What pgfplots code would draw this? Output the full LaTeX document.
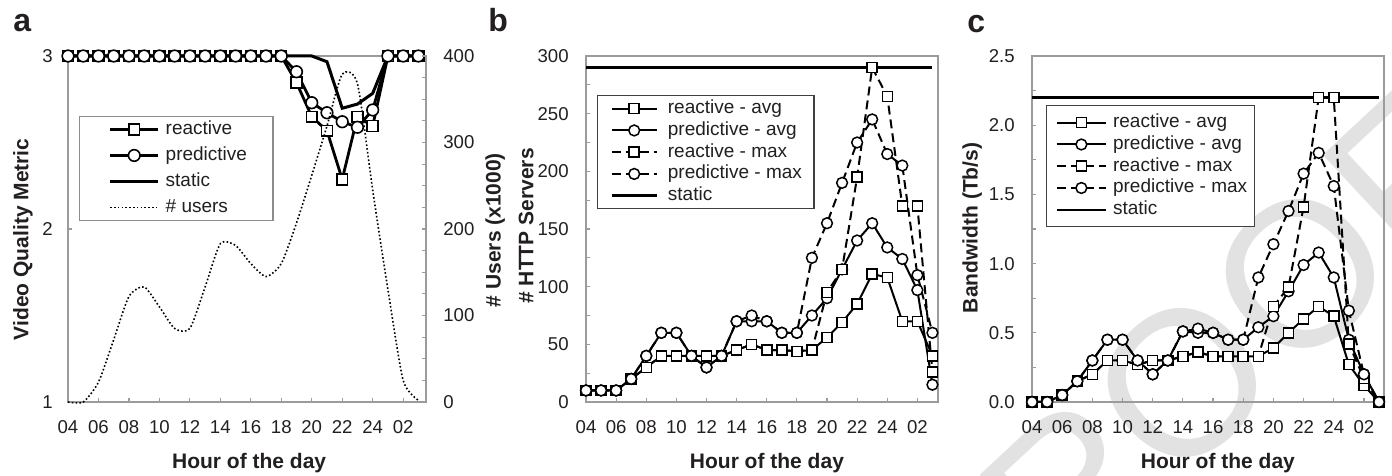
\documentclass[border=0pt]{standalone}
\usepackage{fontspec}
\setmainfont{Liberation Sans}
\usepackage{pgfplots}
\usepackage{pgfplotstable}
\pgfplotsset{compat=1.18}
\definecolor{axg}{RGB}{155,155,155}
\definecolor{txt}{RGB}{35,31,32}
\definecolor{wm}{RGB}{226,226,226}
\definecolor{legA}{RGB}{140,140,140}

\pgfplotstableread{
h react pred stat users
4 3 3 3 0
5 3 3 3 0
6 3 3 3 23
7 3 3 3 72
8 3 3 3 122
9 3 3 3 133
10 3 3 3 110
11 3 3 3 85
12 3 3 3 85
13 3 3 3 133
14 3 3 3 183
15 3 3 3 181
16 3 3 3 160
17 3 3 3 145
18 3 3 3 160
19 2.846 2.909 3 207
20 2.649 2.730 3 262
21 2.568 2.672 2.967 319
22 2.287 2.620 2.698 379
23 2.649 2.588 2.722 368
24 2.595 2.688 2.784 245
25 3 3 3 130
26 3 3 3 25
27 3 3 3 2
}\tabA

\pgfplotstableread{
h ra pa rm pm
4 10 10 10 10
5 10 10 10 10
6 10 10 10 10
7 20 20 20 20
8 30 40 30 40
9 40 60 40 60
10 40 60 40 60
11 40 40 40 40
12 40 30 40 30
13 40 40 40 40
14 45 70 45 70
15 50 70 50 75
16 45 70 45 70
17 45 60 45 60
18 44 60 44 60
19 45 75 45 125
20 56 90 95 155
21 69 115 115 190
22 85 140 195 225
23 111 155 290 245
24 108 134 265 215
25 70 124 170 205
26 70 97 170 110
27 40 15 26 60
}\tabB

\pgfplotstableread{
h ra pa rm pm
4 0 0 0 0
5 0 0 0 0
6 0.05 0.05 0.05 0.05
7 0.15 0.15 0.15 0.15
8 0.2 0.3 0.2 0.3
9 0.3 0.45 0.3 0.45
10 0.3 0.45 0.3 0.45
11 0.27 0.3 0.27 0.3
12 0.3 0.2 0.3 0.2
13 0.3 0.3 0.3 0.3
14 0.33 0.51 0.33 0.51
15 0.36 0.50 0.36 0.53
16 0.33 0.50 0.33 0.50
17 0.33 0.45 0.33 0.45
18 0.33 0.45 0.33 0.45
19 0.33 0.54 0.33 0.90
20 0.39 0.62 0.69 1.14
21 0.50 0.80 0.83 1.38
22 0.60 0.99 1.41 1.65
23 0.69 1.08 2.2 1.80
24 0.62 0.90 2.2 1.56
25 0.27 0.45 0.42 0.66
26 0.12 0.20 0.17 0.20
27 0 0 0 0
}\tabC

\pgfplotsset{
 base/.style={
  scale only axis, height=173pt, clip=false,
  xmin=4,
  axis line style={axg, line width=0.7pt},
  tick style={axg, line width=0.6pt},
  major tick length=2.2pt, minor tick length=2.2pt,
  tick align=inside,
  xtick={4,6,...,26},
  xticklabels={04,06,08,10,12,14,16,18,20,22,24,02},
  xtick pos=bottom,
  ytick pos=left,
  tick label style={font=\fontsize{9.3}{11}\selectfont, text=txt},
  xticklabel style={inner sep=0pt, yshift=-9pt},
  label style={font=\bfseries\fontsize{10.5}{12}\selectfont, text=txt},
  xlabel={Hour of the day},
  /pgf/number format/assume math mode=true,
  legend cell align=left,
 },
 sqA/.style={black, line width=1.4pt, mark=square*, mark size=2.7pt, mark options={fill=white, line width=0.8pt, solid}},
 ciA/.style={black, line width=1.4pt, mark=*, mark size=2.9pt, mark options={fill=white, line width=0.8pt, solid}},
 sqB/.style={black, line width=1pt, mark=square*, mark size=2.5pt, mark options={fill=white, line width=0.75pt, solid}},
 ciB/.style={black, line width=1pt, mark=*, mark size=2.7pt, mark options={fill=white, line width=0.75pt, solid}},
 dsh/.style={dash pattern=on 4.5pt off 2.5pt},
}

\begin{document}
\begin{tikzpicture}
\useasboundingbox (0,0) rectangle (696pt,238pt);
\node[rotate=43, text=wm, font=\fontsize{103}{103}\selectfont, inner sep=0pt] at (591.5pt,46.5pt) {PROOF};

% panel letters
\node[anchor=base west, inner sep=0pt, font=\bfseries\fontsize{16}{16}\selectfont, text=txt] at (6.5pt,222pt) {a};
\node[anchor=base west, inner sep=0pt, font=\bfseries\fontsize{16}{16}\selectfont, text=txt] at (244pt,222pt) {b};
\node[anchor=base west, inner sep=0pt, font=\bfseries\fontsize{16}{16}\selectfont, text=txt] at (483.5pt,221.5pt) {c};

% ---------- panel a ----------
\begin{axis}[base, at={(34pt,37pt)}, anchor=south west, width=179pt, xmax=27.5,
 ymin=1, ymax=3, ytick={1,2,3}, yticklabels={1,2,3},
 yticklabel style={inner sep=0pt, xshift=-7.5pt},
 ylabel={Video Quality Metric},
 ylabel style={at={(axis description cs:-0.126,0.470)}, anchor=center},
 xlabel style={at={(axis description cs:0.506,0)}, anchor=center, yshift=-30.75pt},
 legend style={at={(0.031,0.827)}, anchor=north west, draw=legA, line width=0.6pt,
   inner xsep=13pt, inner ysep=2pt, row sep=4pt, column sep=3pt,
   nodes={inner sep=0pt, text height=7pt, text depth=2pt, font=\fontsize{9.5}{11}\selectfont, text=txt}},
 legend image code/.code={\path (-1.5pt,0pt); \draw[mark repeat=2,mark phase=2,#1] plot coordinates {(0pt,0pt) (12pt,0pt) (24pt,0pt)};},
]
\addplot[sqA] table[x=h, y=react] {\tabA};
\addlegendentry{reactive}
\addplot[ciA] table[x=h, y=pred] {\tabA};
\addlegendentry{predictive}
\addplot[black, line width=1.5pt] table[x=h, y=stat] {\tabA};
\addlegendentry{static}
\addlegendimage{black, line width=0.8pt, dash pattern=on 0.8pt off 1.1pt}
\addlegendentry{\# users}
\end{axis}

\begin{axis}[base, at={(34pt,37pt)}, anchor=south west, width=179pt, xmax=27.5,
 ymin=0, ymax=400, ytick={0,100,200,300,400}, yticklabels={0,100,200,300,400},
 minor ytick={25,50,...,375},
 ytick pos=right, yticklabel pos=right, xtick=\empty, xlabel={},
 axis line style={draw=none},
 yticklabel style={inner sep=0pt, xshift=8.5pt, anchor=west},
 ylabel={\# Users (x1000)},
 ylabel style={at={(axis description cs:1.193,0.497)}, anchor=center},
]
\addplot[black, line width=0.8pt, dash pattern=on 0.8pt off 1.1pt, smooth, tension=0.4] table[x=h, y=users] {\tabA};
\end{axis}

% ---------- panel b ----------
\begin{axis}[base, at={(293pt,37pt)}, anchor=south west, width=176pt, xmax=27.37,
 ymin=0, ymax=300, ytick={0,50,100,150,200,250,300}, yticklabels={0,50,100,150,200,250,300},
 minor ytick={25,75,...,275},
 yticklabel style={inner sep=0pt, xshift=-8.5pt},
 ylabel={\# HTTP Servers},
 ylabel style={at={(axis description cs:-0.170,0.509)}, anchor=center},
 xlabel style={at={(axis description cs:0.514,0)}, anchor=center, yshift=-30.75pt},
 legend style={at={(0.031,0.887)}, anchor=north west, draw=black!75, line width=0.6pt,
   inner xsep=6pt, inner ysep=2pt, row sep=1.875pt, column sep=5pt,
   nodes={inner sep=0pt, text height=7pt, text depth=2pt, font=\fontsize{9.5}{11}\selectfont, text=txt}},
 legend image code/.code={\path (-0.5pt,0pt); \draw[mark repeat=2,mark phase=2,#1] plot coordinates {(0pt,0pt) (11.25pt,0pt) (22.5pt,0pt)};},
]
\addplot[sqB] table[x=h, y=ra] {\tabB};
\addlegendentry{reactive - avg}
\addplot[ciB] table[x=h, y=pa] {\tabB};
\addlegendentry{predictive - avg}
\addplot[sqB, dsh] table[x=h, y=rm] {\tabB};
\addlegendentry{reactive - max}
\addplot[ciB, dsh] table[x=h, y=pm] {\tabB};
\addlegendentry{predictive - max}
\addplot[black, line width=1.2pt] coordinates {(4,290) (27,290)};
\addlegendentry{static}
\end{axis}

% ---------- panel c ----------
\begin{axis}[base, at={(516pt,37pt)}, anchor=south west, width=176pt, xmax=27.33,
 ymin=0, ymax=2.5, ytick={0,0.5,1,1.5,2,2.5}, yticklabels={0.0,0.5,1.0,1.5,2.0,2.5},
 minor ytick={0.25,0.75,1.25,1.75,2.25},
 yticklabel style={inner sep=0pt, xshift=-8.5pt},
 ylabel={Bandwidth (Tb/s)},
 ylabel style={at={(axis description cs:-0.170,0.503)}, anchor=center},
 xlabel style={at={(axis description cs:0.528,0)}, anchor=center, yshift=-30.75pt},
 legend style={at={(0.040,0.858)}, anchor=north west, draw=black!75, line width=0.6pt,
   inner xsep=3.5pt, inner ysep=4pt, row sep=1.875pt, column sep=3pt,
   nodes={inner sep=0pt, text height=7pt, text depth=2pt, font=\fontsize{9.5}{11}\selectfont, text=txt}},
 legend image code/.code={\path (-1pt,0pt); \draw[mark repeat=2,mark phase=2,#1] plot coordinates {(0pt,0pt) (12.25pt,0pt) (24.5pt,0pt)};},
]
\addplot[sqB] table[x=h, y=ra] {\tabC};
\addlegendentry{reactive - avg}
\addplot[ciB] table[x=h, y=pa] {\tabC};
\addlegendentry{predictive - avg}
\addplot[sqB, dsh] table[x=h, y=rm] {\tabC};
\addlegendentry{reactive - max}
\addplot[ciB, dsh] table[x=h, y=pm] {\tabC};
\addlegendentry{predictive - max}
\addplot[black, line width=1.2pt] coordinates {(4,2.2) (27,2.2)};
\addlegendentry{static}
\end{axis}
\end{tikzpicture}
\end{document}
